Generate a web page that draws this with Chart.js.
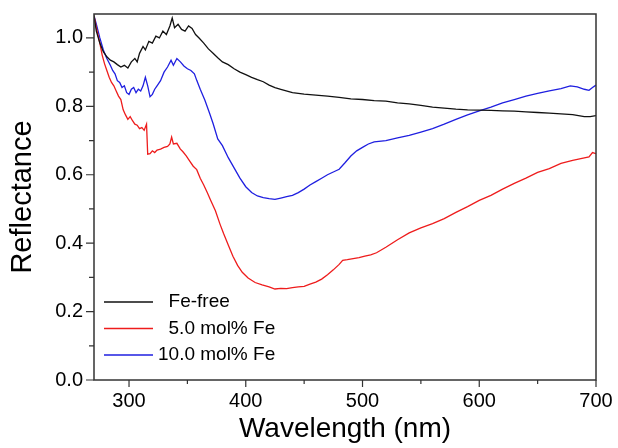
<!DOCTYPE html>
<html>
<head>
<meta charset="utf-8">
<script src="https://cdn.jsdelivr.net/npm/chart.js@4.4.1/dist/chart.umd.min.js"></script>
<style>
  html, body { margin: 0; padding: 0; background: #fff; }
  #wrap { width: 618px; height: 448px; }
</style>
</head>
<body>
<div id="wrap"><canvas id="chart" width="618" height="448"></canvas></div>
<script>
// ==================== Data ====================
const seriesLabels = ["  Fe-free", "  5.0 mol% Fe", "10.0 mol% Fe"];

const wlFree = [270, 272, 275, 278, 281, 284, 287, 290, 293, 296, 299, 302, 305, 307, 309, 312, 314, 317, 320, 323,
  326, 329, 332, 335, 337, 339, 342, 345, 348, 351, 354, 357, 360, 364, 368, 372, 376, 380, 385, 390,
  395, 400, 405, 410, 415, 420, 425, 430, 440, 450, 460, 470, 480, 490, 500, 510, 520, 530, 540, 550,
  560, 570, 580, 590, 600, 610, 620, 630, 640, 650, 660, 670, 680, 690, 695, 700];
const rFree = [1.065, 1.02, 0.985, 0.96, 0.945, 0.935, 0.93, 0.922, 0.915, 0.92, 0.912, 0.93, 0.94, 0.93, 0.955, 0.975, 0.965, 0.99, 0.985, 1.005,
  1.0, 1.02, 1.01, 1.035, 1.058, 1.03, 1.04, 1.025, 1.02, 1.035, 1.028, 1.01, 1.0, 0.985, 0.968, 0.955, 0.942, 0.93, 0.922, 0.91,
  0.9, 0.893, 0.885, 0.878, 0.872, 0.862, 0.855, 0.85, 0.84, 0.836, 0.833, 0.83, 0.826, 0.822, 0.82, 0.817, 0.815, 0.81, 0.807, 0.803,
  0.798, 0.795, 0.792, 0.79, 0.789, 0.788, 0.787, 0.786, 0.784, 0.782, 0.78, 0.778, 0.776, 0.77, 0.77, 0.773];

const wlFe5 = [270, 272, 275, 277, 279, 281, 283, 285, 287, 289, 291, 293, 295, 297, 299, 301, 303, 305, 307, 309,
  311, 313, 315, 316, 318, 320, 322, 324, 327, 330, 333, 335, 336.5, 338, 341, 344, 346, 349, 352, 355,
  358, 361, 364, 367, 370, 374, 378, 381, 385, 389, 393, 397, 402, 408, 414, 420, 425, 430, 435, 440,
  445, 450, 455, 460, 465, 470, 475, 480, 483, 487, 492, 497, 502, 507, 512, 520, 530, 540, 550, 560,
  570, 580, 590, 600, 610, 620, 630, 640, 650, 660, 670, 680, 688, 694, 697, 700];
const rFe5 = [1.065, 1.03, 0.985, 0.95, 0.925, 0.905, 0.885, 0.87, 0.86, 0.845, 0.83, 0.82, 0.79, 0.775, 0.762, 0.77, 0.758, 0.748, 0.745, 0.735,
  0.738, 0.73, 0.748, 0.66, 0.662, 0.67, 0.665, 0.672, 0.675, 0.68, 0.683, 0.69, 0.71, 0.69, 0.692, 0.675, 0.668, 0.655, 0.64, 0.625,
  0.615, 0.59, 0.57, 0.548, 0.525, 0.495, 0.455, 0.428, 0.395, 0.362, 0.335, 0.315, 0.298, 0.285, 0.278, 0.272, 0.266, 0.268, 0.267, 0.27,
  0.272, 0.274, 0.28, 0.286, 0.295, 0.308, 0.322, 0.338, 0.35, 0.352, 0.355, 0.358, 0.362, 0.366, 0.372, 0.388, 0.41, 0.43, 0.445, 0.457,
  0.472, 0.49, 0.507, 0.525, 0.54, 0.558, 0.575, 0.59, 0.607, 0.618, 0.633, 0.642, 0.648, 0.652, 0.665, 0.662];

const wlFe10 = [270, 272, 275, 278, 281, 284, 286, 288, 290, 292, 294, 296, 298, 300, 302, 304, 306, 308, 310, 312,
  314, 316, 318, 320, 322, 324, 327, 330, 333, 336, 338, 341, 344, 347, 350, 353, 356, 358, 361, 365,
  369, 372, 376, 380, 385, 390, 395, 400, 405, 410, 415, 420, 425, 430, 435, 440, 445, 450, 455, 460,
  465, 470, 475, 480, 485, 490, 495, 500, 505, 510, 520, 530, 540, 550, 560, 570, 580, 590, 600, 610,
  620, 630, 640, 650, 660, 670, 678, 684, 690, 694, 697, 700];
const rFe10 = [1.065, 1.04, 1.0, 0.965, 0.94, 0.92, 0.905, 0.895, 0.875, 0.87, 0.855, 0.86, 0.84, 0.835, 0.85, 0.855, 0.84, 0.85, 0.845, 0.86,
  0.885, 0.86, 0.828, 0.835, 0.85, 0.86, 0.875, 0.9, 0.915, 0.935, 0.92, 0.94, 0.93, 0.918, 0.91, 0.905, 0.895, 0.876, 0.85, 0.818,
  0.78, 0.75, 0.705, 0.685, 0.65, 0.62, 0.59, 0.565, 0.548, 0.538, 0.533, 0.53, 0.528, 0.532, 0.536, 0.54, 0.548, 0.558, 0.57, 0.58,
  0.59, 0.6, 0.608, 0.616, 0.635, 0.655, 0.67, 0.68, 0.69, 0.696, 0.7, 0.708, 0.715, 0.725, 0.735, 0.748, 0.762, 0.775, 0.787, 0.798,
  0.81, 0.82, 0.83, 0.838, 0.845, 0.852, 0.86, 0.857, 0.85, 0.847, 0.855, 0.862];

const xMin = 270, xMax = 700, xStep = 50;
const yMin = 0, yMax = 1.07, yStep = 0.1;

const toPoints = (xs, ys) => xs.map((x, i) => ({ x: x, y: ys[i] }));

// ==================== Plugins ====================
// frame round the plot + outward major/minor ticks
const framePlugin = {
    id: "frame",
    afterDraw(chart) {
        const { ctx, chartArea: a, scales } = chart;
        ctx.save();
        ctx.strokeStyle = "#333";
        ctx.lineWidth = 1.5;
        ctx.strokeRect(a.left, a.top, a.right - a.left, a.bottom - a.top);

        ctx.lineWidth = 1.2;
        ctx.beginPath();
        scales.x.ticks.forEach(t => {
            const px = scales.x.getPixelForValue(t.value);
            const len = t.value % 100 === 0 ? 7 : 4;
            ctx.moveTo(px, a.bottom);
            ctx.lineTo(px, a.bottom + len);
        });
        scales.y.ticks.forEach(t => {
            const py = scales.y.getPixelForValue(t.value);
            const len = Math.round(t.value * 10) % 2 === 0 ? 8 : 5;
            ctx.moveTo(a.left, py);
            ctx.lineTo(a.left - len, py);
        });
        ctx.stroke();
        ctx.restore();
    }
};

// legend in the lower left corner of the plot
const legendPlugin = {
    id: "cornerLegend",
    afterDraw(chart) {
        const { ctx, chartArea: a } = chart;
        ctx.save();
        ctx.font = "19px 'Liberation Sans', Arial, sans-serif";
        ctx.textBaseline = "middle";
        ctx.fillStyle = "#000";
        chart.data.datasets.forEach((ds, i) => {
            const y = a.bottom - 78 + i * 26.5;
            ctx.strokeStyle = ds.borderColor;
            ctx.lineWidth = 1.5;
            ctx.beginPath();
            ctx.moveTo(a.left + 10, y);
            ctx.lineTo(a.left + 59, y);
            ctx.stroke();
            ctx.fillText(ds.label, a.left + 64, y);
        });
        ctx.restore();
    }
};

// ==================== Chart ====================
new Chart(document.getElementById("chart"), {
    type: "line",
    data: {
        datasets: [
            { label: seriesLabels[0], data: toPoints(wlFree, rFree), borderColor: "#111111" },
            { label: seriesLabels[1], data: toPoints(wlFe5, rFe5), borderColor: "#ee1c1c" },
            { label: seriesLabels[2], data: toPoints(wlFe10, rFe10), borderColor: "#1f1fe0" }
        ]
    },
    options: {
        responsive: false,
        animation: false,
        layout: { padding: { top: 14, right: 22, left: 0, bottom: 0 } },
        elements: {
            point: { radius: 0 },
            line: { borderWidth: 1.3, tension: 0 }
        },
        plugins: {
            legend: { display: false },
            tooltip: { enabled: false }
        },
        scales: {
            x: {
                type: "linear",
                min: xMin,
                max: xMax,
                afterFit(scale) {
                    scale.height = 68;
                    scale.paddingLeft = 0;
                    scale.paddingRight = 0;
                },
                border: { display: false },
                grid: { display: false, drawTicks: false },
                ticks: {
                    stepSize: xStep,
                    includeBounds: false,
                    autoSkip: false,
                    maxRotation: 0,
                    padding: 9,
                    color: "#000",
                    font: { family: "'Liberation Sans', Arial, sans-serif", size: 20 },
                    callback: v => (v % 100 === 0 ? String(v) : "")
                },
                title: {
                    display: true,
                    text: "Wavelength (nm)",
                    color: "#000",
                    padding: { top: 0, bottom: 2 },
                    font: { family: "'Liberation Sans', Arial, sans-serif", size: 28 }
                }
            },
            y: {
                min: yMin,
                max: yMax,
                afterFit(scale) {
                    scale.width = 94;
                    scale.paddingTop = 0;
                    scale.paddingBottom = 0;
                },
                border: { display: false },
                grid: { display: false, drawTicks: false },
                ticks: {
                    stepSize: yStep,
                    includeBounds: false,
                    autoSkip: false,
                    padding: 11,
                    color: "#000",
                    font: { family: "'Liberation Sans', Arial, sans-serif", size: 20 },
                    callback: v => (Math.round(v * 10) % 2 === 0 ? v.toFixed(1) : "")
                },
                title: {
                    display: true,
                    text: "Reflectance",
                    color: "#000",
                    padding: { top: 6, bottom: 0 },
                    font: { family: "'Liberation Sans', Arial, sans-serif", size: 29 }
                }
            }
        }
    },
    plugins: [framePlugin, legendPlugin]
});
</script>
</body>
</html>
